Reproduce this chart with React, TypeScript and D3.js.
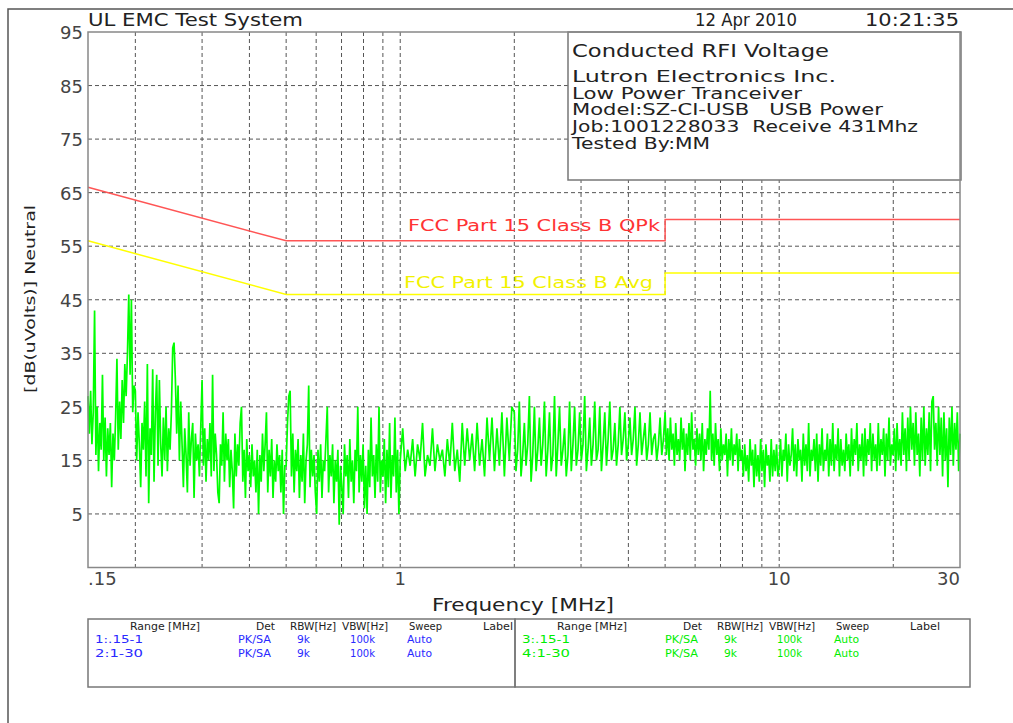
import React from "react";
import * as d3 from "d3";

// ---- Chart data -------------------------------------------------------
const TITLE = "UL EMC Test System";
const DATE_TEXT = "12 Apr 2010";
const TIME_TEXT = "10:21:35";

const INFO_HEADING = "Conducted RFI Voltage";
const INFO_LINES = [
  "Lutron Electronics Inc.",
  "Low Power Tranceiver",
  "Model:SZ-CI-USB   USB Power",
  "Job:1001228033  Receive 431Mhz",
  "Tested By:MM",
];

const Y_TICKS = [95, 85, 75, 65, 55, 45, 35, 25, 15, 5];
const Y_GRID = [85, 75, 65, 55, 45, 35, 25, 15, 5];
const X_GRID = [0.2, 0.3, 0.4, 0.5, 0.6, 0.7, 0.8, 0.9, 1, 2, 3, 4, 5, 6, 7, 8, 9, 10, 20];
const X_LABELS = [
  { f: 0.15, text: ".15", anchor: "start" },
  { f: 1, text: "1", anchor: "middle" },
  { f: 10, text: "10", anchor: "middle" },
  { f: 30, text: "30", anchor: "end" },
];

// FCC Part 15 Class B conducted limits (MHz, dBuV)
const QPK_FREQ = [0.15, 0.5, 5, 5, 30];
const QPK_LEVEL = [66, 56, 56, 60, 60];
const AVG_FREQ = [0.15, 0.5, 5, 5, 30];
const AVG_LEVEL = [56, 46, 46, 50, 50];

// Peak sweep of the neutral line, in dBuV, per frequency band
const SWEEP_0150_0200 = [27, 20, 28, 18, 24, 43, 16, 25, 13, 22, 17, 31, 15, 23, 12, 21, 16, 22, 10, 20, 15, 23, 34, 17, 26, 19, 30, 22, 33, 27, 35, 46, 31, 45, 24, 29];
const SWEEP_0200_0300 = [28, 15, 24, 18, 10, 22, 17, 26, 12, 33, 7, 21, 16, 32, 11, 24, 31, 14, 30, 18, 12, 23, 15, 25, 13, 21, 17, 24, 36, 37, 30, 20, 29, 15, 26, 18, 10, 21, 16, 9, 24, 14, 19, 22, 8, 20, 15, 18, 12, 21];
const SWEEP_0300_0500 = [
  30, 14, 21, 11, 19, 15, 22, 12, 31, 13, 20, 16, 9, 7, 18, 14, 24, 11, 20, 15, 19, 10, 17, 13, 6, 20, 12, 18, 14, 22,
  25, 11, 17, 8, 19, 13, 16, 10, 18, 12, 15, 9, 17, 5, 16, 11, 20, 13, 18, 24, 9, 17, 12, 19, 8, 15, 11, 18, 13, 16,
  9, 17, 5, 14,
];
const SWEEP_0500_1000 = [
  14, 22, 27, 28, 12, 20, 9, 17, 13, 19, 8, 16, 11, 20, 7, 15, 18, 29, 10, 17, 12, 16, 9, 5, 17, 11, 18, 8, 15, 13,
  19, 25, 9, 16, 12, 18, 7, 15, 11, 17, 3, 14, 10, 5, 18, 12, 16, 8, 19, 11, 15, 7, 17, 13, 25, 9, 16, 11, 18, 6,
  14, 5, 17, 10, 23, 12, 16, 8, 18, 11, 25, 9, 15, 12, 19, 7, 17, 10, 22, 8, 16, 12, 23, 9, 17, 5,
];
const SWEEP_1000_2000 = [15, 21, 13, 17, 14, 19, 12, 18, 15, 22, 12, 16, 14, 21, 13, 18, 15, 17, 12, 19, 14, 22, 13, 17, 11, 22, 14, 21, 15, 20, 13, 22, 14, 19, 12, 23, 15, 23, 13, 21, 14, 24, 12, 23, 15, 25];
const SWEEP_2000_5000 = [
  24, 13, 17, 26, 12, 16, 22, 14, 18, 27, 11, 16, 25, 13, 17, 23, 14, 18, 26, 12, 17, 24, 13, 16, 27, 12, 18, 25, 14, 17,
  21, 12, 16, 26, 13, 18, 25, 14, 17, 24, 15, 18, 27, 13, 17, 23, 14, 18, 26, 15, 17, 25, 13, 18, 24, 14, 19, 26, 15, 17,
  22, 14, 18, 25, 16, 19, 24, 15, 18, 23, 16, 19, 25, 14, 18, 24, 16, 19, 22, 15, 18, 24, 16, 19, 20, 15, 18, 23, 16, 19,
];
const SWEEP_5000_10000 = [
  24, 16, 21, 15, 23, 17, 20, 14, 22, 16, 19, 15, 23, 17, 21, 13, 20, 16, 22, 15, 24, 17, 19, 14, 21, 16, 20, 15, 22, 13,
  19, 16, 21, 17, 28, 15, 20, 14, 22, 16, 19, 13, 21, 15, 18, 16, 20, 12, 19, 15, 21, 14, 18, 16, 20, 13, 19, 15, 17, 12,
  18, 13, 16, 11, 19, 14, 17, 10, 18, 12, 16, 11, 19, 13, 17, 10, 18, 14, 16, 11, 19, 12, 17, 13, 18, 12,
];
const SWEEP_10000_30000 = [
  14, 19, 12, 17, 15, 20, 11, 18, 14, 16, 21, 13, 18, 12, 19, 15, 17, 11, 20, 14, 18, 13, 22, 12, 17, 15, 19, 13, 20, 11,
  18, 14, 21, 13, 17, 15, 20, 12, 19, 14, 22, 13, 18, 15, 21, 12, 19, 14, 17, 13, 20, 15, 18, 12, 21, 14, 19, 16, 22, 13,
  18, 15, 20, 12, 21, 14, 19, 16, 22, 13, 20, 15, 18, 13, 22, 14, 19, 16, 21, 12, 20, 15, 23, 14, 18, 16, 21, 13, 22, 15,
  19, 14, 24, 16, 21, 13, 23, 15, 25, 17, 22, 14, 24, 16, 20, 12, 23, 15, 25, 14, 21, 16, 24, 13, 26, 27, 17, 22, 14, 25,
  16, 23, 12, 24, 15, 21, 10, 23, 16, 25, 14, 22, 17, 24, 13, 20,
];

const SWEEP_BANDS = [
  { from: 0.15, to: 0.2, values: SWEEP_0150_0200 },
  { from: 0.2, to: 0.3, values: SWEEP_0200_0300 },
  { from: 0.3, to: 0.5, values: SWEEP_0300_0500 },
  { from: 0.5, to: 1, values: SWEEP_0500_1000 },
  { from: 1, to: 2, values: SWEEP_1000_2000 },
  { from: 2, to: 5, values: SWEEP_2000_5000 },
  { from: 5, to: 10, values: SWEEP_5000_10000 },
  { from: 10, to: 30, values: SWEEP_10000_30000 },
];

// Analyzer settings table
const TABLE_HEADERS = [
  { text: "Range [MHz]", dx: 42, w: 70 },
  { text: "Det", dx: 168, w: 19 },
  { text: "RBW[Hz]", dx: 202, w: 46 },
  { text: "VBW[Hz]", dx: 254, w: 46 },
  { text: "Sweep", dx: 321, w: 33 },
  { text: "Label", dx: 395, w: 30 },
];
const TABLE_LEFT_ROWS = [
  ["1:.15-1", "PK/SA", "9k", "100k", "Auto"],
  ["2:1-30", "PK/SA", "9k", "100k", "Auto"],
];
const TABLE_RIGHT_ROWS = [
  ["3:.15-1", "PK/SA", "9k", "100k", "Auto"],
  ["4:1-30", "PK/SA", "9k", "100k", "Auto"],
];
const ROW_COLS = [
  { dx: 7, w: 48 },
  { dx: 150, w: 33 },
  { dx: 209, w: 13 },
  { dx: 262, w: 25 },
  { dx: 319, w: 25 },
];

// ---- Layout ------------------------------------------------------------
const W = 1013;
const H = 723;
const PLOT = { left: 88, right: 960, top: 32, bottom: 567.5 };
const FONT = "'DejaVu Sans', 'Liberation Sans', sans-serif";
const TRACE_GREEN = "#00ff00";

const x = d3.scaleLog().domain([0.15, 30]).range([PLOT.left, PLOT.right]);
const y = d3.scaleLinear().domain([-5, 95]).range([PLOT.bottom, PLOT.top]);

// Each band is a log-spaced sweep from `from` to `to` MHz
function sweepPoints(): [number, number][] {
  const pts: [number, number][] = [];
  SWEEP_BANDS.forEach((band, bi) => {
    const last = bi === SWEEP_BANDS.length - 1;
    const n = band.values.length;
    const steps = last ? n - 1 : n;
    const lf = d3.scaleLinear().domain([0, steps]).range([Math.log(band.from), Math.log(band.to)]);
    band.values.forEach((v, i) => {
      pts.push([Math.exp(lf(i)), v]);
    });
  });
  return pts;
}

const preserve = { whiteSpace: "pre" } as React.CSSProperties;

export default function App() {
  const line = d3
    .line<[number, number]>()
    .x((d) => x(d[0]))
    .y((d) => y(d[1]));

  const qpk = QPK_FREQ.map((f, i) => [f, QPK_LEVEL[i]] as [number, number]);
  const avg = AVG_FREQ.map((f, i) => [f, AVG_LEVEL[i]] as [number, number]);
  const sweep = sweepPoints();

  const gridStroke = "#555";
  const dash = "4,3";

  const renderTable = (left: number, right: number, rows: string[][], color: string) => (
    <g>
      <rect x={left} y={619} width={right - left} height={68} fill="none" stroke="#777" strokeWidth={1.5} />
      {TABLE_HEADERS.map((h) => (
        <text key={h.text} x={left + h.dx} y={630} fontSize={11} fill="#222" textLength={h.w} lengthAdjust="spacingAndGlyphs">
          {h.text}
        </text>
      ))}
      {rows.map((row, ri) =>
        row.map((cell, ci) => (
          <text
            key={ri + "-" + ci}
            x={left + ROW_COLS[ci].dx}
            y={643 + ri * 13.5}
            fontSize={11}
            fill={color}
            textLength={ROW_COLS[ci].w}
            lengthAdjust="spacingAndGlyphs"
          >
            {cell}
          </text>
        ))
      )}
    </g>
  );

  return (
    <svg
      width={W}
      height={H}
      style={{ position: "fixed", left: 0, top: 0, background: "#fff" }}
      fontFamily={FONT}
    >
      <rect x={0} y={0} width={W} height={H} fill="#fff" />
      {/* page frame */}
      <path d={`M${W + 2},9 H8 V${H + 2}`} fill="none" stroke="#555" strokeWidth={1.5} />

      {/* header */}
      <text x={88} y={26} fontSize={18} fill="#222" textLength={215} lengthAdjust="spacingAndGlyphs">
        {TITLE}
      </text>
      <text x={695} y={26} fontSize={18} fill="#222" textLength={102} lengthAdjust="spacingAndGlyphs">
        {DATE_TEXT}
      </text>
      <text x={865} y={26} fontSize={18} fill="#222" textLength={94} lengthAdjust="spacingAndGlyphs">
        {TIME_TEXT}
      </text>

      {/* grid */}
      <g stroke={gridStroke} strokeWidth={1} strokeDasharray={dash} fill="none">
        {X_GRID.map((f) => (
          <line key={"gx" + f} x1={x(f)} x2={x(f)} y1={PLOT.top} y2={PLOT.bottom} />
        ))}
        {Y_GRID.map((v) => (
          <line key={"gy" + v} x1={PLOT.left} x2={PLOT.right} y1={y(v)} y2={y(v)} />
        ))}
      </g>

      {/* info box */}
      <rect x={568} y={32} width={393} height={148} fill="#fff" stroke="#777" strokeWidth={1.5} />
      <text x={572} y={57} fontSize={17} fill="#222" textLength={257} lengthAdjust="spacingAndGlyphs">
        {INFO_HEADING}
      </text>
      {INFO_LINES.map((t, i) => {
        const widths = [264, 230, 311, 346, 138];
        const ys = [82, 99, 115, 132, 149];
        return (
          <text
            key={t}
            x={572}
            y={ys[i]}
            fontSize={15}
            fill="#222"
            style={preserve}
            textLength={widths[i]}
            lengthAdjust="spacingAndGlyphs"
          >
            {t}
          </text>
        );
      })}

      {/* limit lines */}
      <path d={line(qpk) || ""} fill="none" stroke="#ff5555" strokeWidth={1.5} />
      <path d={line(avg) || ""} fill="none" stroke="#ffff00" strokeWidth={1.5} />
      <text x={408} y={231} fontSize={16} fill="#ff3333" textLength={252} lengthAdjust="spacingAndGlyphs">
        FCC Part 15 Class B QPk
      </text>
      <text x={404} y={288} fontSize={16} fill="#f2f200" textLength={249} lengthAdjust="spacingAndGlyphs">
        FCC Part 15 Class B Avg
      </text>

      {/* measured trace */}
      <path d={line(sweep) || ""} fill="none" stroke={TRACE_GREEN} strokeWidth={1.7} strokeLinejoin="miter" />

      {/* plot frame */}
      <rect
        x={PLOT.left}
        y={PLOT.top}
        width={PLOT.right - PLOT.left}
        height={PLOT.bottom - PLOT.top}
        fill="none"
        stroke="#888"
        strokeWidth={1.5}
      />

      {/* y tick labels */}
      {Y_TICKS.map((v) => (
        <text key={"yt" + v} x={83} y={y(v) + 7} fontSize={18} fill="#444" textAnchor="end">
          {v}
        </text>
      ))}
      <text
        transform={`translate(35,299) rotate(-90)`}
        fontSize={14}
        fill="#222"
        textAnchor="middle"
        textLength={188}
        lengthAdjust="spacingAndGlyphs"
      >
        [dB(uVolts)] Neutral
      </text>

      {/* x tick labels */}
      {X_LABELS.map((l) => (
        <text key={l.text} x={x(l.f)} y={585} fontSize={18} fill="#444" textAnchor={l.anchor as any}>
          {l.text}
        </text>
      ))}
      <text x={523} y={611} fontSize={17} fill="#222" textAnchor="middle" textLength={182} lengthAdjust="spacingAndGlyphs">
        Frequency [MHz]
      </text>

      {/* settings table */}
      {renderTable(88, 515, TABLE_LEFT_ROWS, "#2a2aff")}
      {renderTable(515, 970, TABLE_RIGHT_ROWS, "#00ee00")}
    </svg>
  );
}
